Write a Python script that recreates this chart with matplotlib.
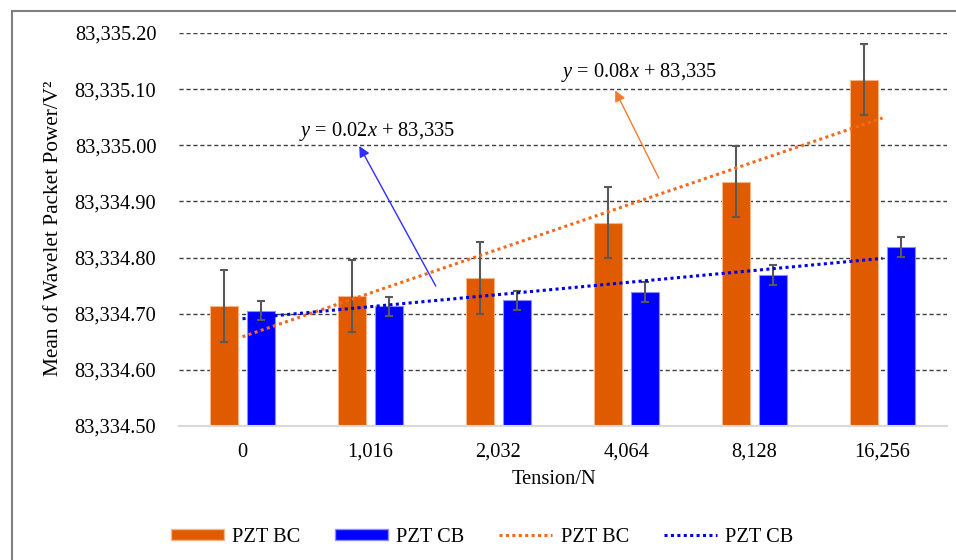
import numpy as np
import matplotlib.pyplot as plt
from matplotlib.ticker import FuncFormatter, MultipleLocator
from matplotlib.patches import Patch, Rectangle
from matplotlib.lines import Line2D

plt.rcParams['font.family'] = ['Liberation Serif', 'DejaVu Serif']
plt.rcParams['mathtext.fontset'] = 'custom'
plt.rcParams['mathtext.rm'] = 'Liberation Serif'
plt.rcParams['mathtext.it'] = 'Liberation Serif:italic'

# Wavelet packet power (mean +/- std) for each tension level
tension = ['0', '1,016', '2,032', '4,064', '8,128', '16,256']
bc_mean = [83334.713, 83334.732, 83334.764, 83334.862, 83334.935, 83335.117]
bc_err = [0.064, 0.064, 0.064, 0.063, 0.063, 0.063]
cb_mean = [83334.705, 83334.713, 83334.724, 83334.739, 83334.769, 83334.819]
cb_err = [0.017, 0.017, 0.017, 0.018, 0.018, 0.018]

c_bc = '#E05A00'
c_cb = '#0000FF'
fs = 14.7

fig = plt.figure(figsize=(9.56, 5.6), dpi=100)
ax = fig.add_axes([178.5 / 956, 1 - 426 / 560, 768 / 956, 393 / 560])

x = np.arange(len(tension))
w = 0.225
ax.bar(x - 0.145, bc_mean, w, color=c_bc, edgecolor='#F5B58A', linewidth=0.8, zorder=2)
ax.bar(x + 0.145, cb_mean, w, color=c_cb, edgecolor='#8C8CFF', linewidth=0.8, zorder=2)
ax.errorbar(x - 0.145, bc_mean, yerr=bc_err, fmt='none', ecolor='#595959',
            elinewidth=1.5, capsize=3, capthick=1.5, zorder=3)
ax.errorbar(x + 0.145, cb_mean, yerr=cb_err, fmt='none', ecolor='#595959',
            elinewidth=1.5, capsize=3, capthick=1.5, zorder=3)

# linear trend lines over category index (1..6)
idx = x + 1
bc_fit = np.polyfit(idx, bc_mean, 1)
cb_fit = np.polyfit(idx, cb_mean, 1)
ax.plot(x, np.polyval(bc_fit, idx), color='#F26B1D', lw=2.2, ls=(0, (1, 1.1)), zorder=4)
ax.plot(x, np.polyval(cb_fit, idx), color='#0000E6', lw=2.2, ls=(0, (1, 1.1)), zorder=4)

# trend equations
ax.text(1.051, 83335.016, f'$y$ = {cb_fit[0]:.2f}$x$ + {cb_fit[1]:,.0f}',
        ha='center', va='baseline', fontsize=fs, zorder=5)
ax.annotate('', xy=(0.902, 83335.003), xytext=(1.52, 83334.745),
            arrowprops=dict(arrowstyle='-|>', color='#2E2EFF', lw=1, mutation_scale=16))
ax.text(3.098, 83335.122, f'$y$ = {bc_fit[0]:.2f}$x$ + {bc_fit[1]:,.0f}',
        ha='center', va='baseline', fontsize=fs, zorder=5)
ax.annotate('', xy=(2.902, 83335.102), xytext=(3.262, 83334.937),
            arrowprops=dict(arrowstyle='-|>', color='#F47A33', lw=1, mutation_scale=16))

ax.set_xlim(-0.5, 5.5)
ax.set_ylim(83334.5, 83335.2)
ax.yaxis.set_major_locator(MultipleLocator(0.1))
ax.yaxis.set_major_formatter(FuncFormatter(lambda v, p: f'{v:,.2f}'))
ax.set_xticks(x)
ax.set_xticklabels(tension)
ax.tick_params(axis='both', length=0, labelsize=fs)
ax.tick_params(axis='x', pad=12)
ax.tick_params(axis='y', pad=16)
ax.grid(axis='y', color='#404040', lw=1, ls=(0, (3, 2)), zorder=0)
for s in ['top', 'right', 'left']:
    ax.spines[s].set_visible(False)
ax.spines['bottom'].set_color('#D9D9D9')
ax.spines['bottom'].set_linewidth(1.5)

ax.set_ylabel('Mean of Wavelet Packet Power/V²', fontsize=15.3)
ax.yaxis.set_label_coords(-0.150, 0.503)
ax.set_xlabel('Tension/N', fontsize=fs)
ax.xaxis.set_label_coords(0.489, -0.112)

handles = [Patch(facecolor=c_bc, edgecolor='#F5B58A'),
           Patch(facecolor=c_cb, edgecolor='#8C8CFF'),
           Line2D([], [], color='#F26B1D', lw=2.2, ls=(0, (1, 1.1))),
           Line2D([], [], color='#0000E6', lw=2.2, ls=(0, (1, 1.1)))]
fig.legend(handles, ['PZT BC', 'PZT CB', 'PZT BC', 'PZT CB'], ncol=4,
           loc='center', bbox_to_anchor=(482 / 956, 1 - 537 / 560),
           frameon=False, fontsize=fs, handlelength=2.6, handleheight=0.45,
           handletextpad=0.4, columnspacing=1.7)

# chart area border
fig.patches.append(Rectangle((12 / 956, -0.1), 1.2, 1.1 - 10.5 / 560,
                             transform=fig.transFigure, fill=False,
                             edgecolor='#7F7F7F', lw=1.5))

fig.savefig('out.png', dpi=100)
